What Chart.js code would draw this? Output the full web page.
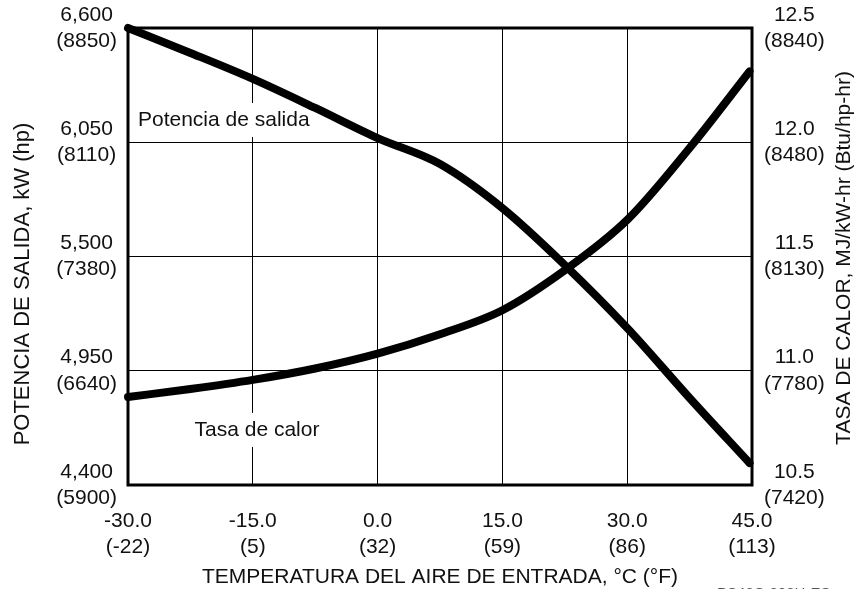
<!DOCTYPE html>
<html>
<head>
<meta charset="utf-8">
<script src="https://cdn.jsdelivr.net/npm/chart.js@4.4.1/dist/chart.umd.min.js"></script>
<style>
  html, body { margin: 0; padding: 0; background: #fff; }
</style>
</head>
<body>
<canvas id="chart" width="868" height="589"></canvas>
<script>
// inlet air temperature, deg C
const temps = [-30, -22.5, -15, -7.5, 0, 7.5, 15, 22.5, 30, 37.5, 44.7];
// output power, kW (left axis)
const power = [6600, 6480, 6355, 6215, 6070, 5945, 5733, 5459, 5156, 4819, 4506];
// heat rate, MJ/kW-hr (right axis)
const heatRate = [10.885, 10.92, 10.96, 11.01, 11.075, 11.16, 11.265, 11.44, 11.66, 11.975, 12.31];

const xTickLabels = [['-30.0', '(-22)'], ['-15.0', '(5)'], ['0.0', '(32)'], ['15.0', '(59)'], ['30.0', '(86)'], ['45.0', '(113)']];
const powerTickLabels = [['4,400', '(5900)'], ['4,950', '(6640)'], ['5,500', '(7380)'], ['6,050', '(8110)'], ['6,600', '(8850)']];
const heatTickLabels = [['10.5', '(7420)'], ['11.0', '(7780)'], ['11.5', '(8130)'], ['12.0', '(8480)'], ['12.5', '(8840)']];

const FONT = "'Liberation Sans', Arial, sans-serif";
const INK = '#111';

// frame round the plot area, and the curve names with a white box over the grid
const framePlugin = {
    id: 'frame',
    beforeDatasetsDraw(chart) {
        const a = chart.chartArea;
        const ctx = chart.ctx;
        const x = chart.scales.x;
        const items = [
            { text: 'Potencia de salida', px: x.getPixelForValue(-28.8), py: chart.scales.y.getPixelForValue(6157) },
            { text: 'Tasa de calor', px: x.getPixelForValue(-22), py: chart.scales.y1.getPixelForValue(10.741) }
        ];
        ctx.save();
        ctx.font = '21px ' + FONT;
        ctx.textAlign = 'left';
        ctx.textBaseline = 'middle';
        items.forEach(function (it) {
            const w = ctx.measureText(it.text).width;
            ctx.fillStyle = '#fff';
            ctx.fillRect(it.px - 4, it.py - 17, w + 8, 34);
            ctx.fillStyle = INK;
            ctx.fillText(it.text, it.px, it.py);
        });
        ctx.strokeStyle = '#000';
        ctx.lineWidth = 3;
        ctx.strokeRect(a.left, a.top, a.right - a.left, a.bottom - a.top);
        ctx.restore();
    }
};

// axis titles
const axisTitles = {
    id: 'axisTitles',
    afterDraw(chart) {
        const ctx = chart.ctx;
        const a = chart.chartArea;
        ctx.save();
        ctx.fillStyle = INK;
        ctx.font = '21px ' + FONT;
        ctx.textAlign = 'center';
        ctx.textBaseline = 'middle';
        ctx.fillText('TEMPERATURA DEL AIRE DE ENTRADA, °C (°F)', (a.left + a.right) / 2, 577);

        ctx.save();
        ctx.translate(844, 258);
        ctx.rotate(-Math.PI / 2);
        ctx.fillText('TASA DE CALOR, MJ/kW-hr (Btu/hp-hr)', 0, 0);
        ctx.restore();

        ctx.font = '22px ' + FONT;
        ctx.save();
        ctx.translate(23, 284);
        ctx.rotate(-Math.PI / 2);
        ctx.fillText('POTENCIA DE SALIDA, kW (hp)', 0, 0);
        ctx.restore();

        // figure code, cut off by the bottom edge
        ctx.fillStyle = '#555';
        ctx.font = '15px ' + FONT;
        ctx.textAlign = 'left';
        ctx.textBaseline = 'top';
        ctx.fillText('PS46C-003H-ES', 717, 586);
        ctx.restore();
    }
};

const lineStyle = {
    borderColor: '#000',
    borderWidth: 8,
    borderCapStyle: 'round',
    borderJoinStyle: 'round',
    pointRadius: 0,
    fill: false,
    clip: false,
    cubicInterpolationMode: 'monotone'
};

const data = {
    datasets: [
        Object.assign({
            label: 'Potencia de salida',
            data: temps.map(function (t, i) { return { x: t, y: power[i] }; }),
            yAxisID: 'y'
        }, lineStyle),
        Object.assign({
            label: 'Tasa de calor',
            data: temps.map(function (t, i) { return { x: t, y: heatRate[i] }; }),
            yAxisID: 'y1'
        }, lineStyle)
    ]
};

const tickFont = { family: FONT, size: 21, lineHeight: 1.25 };

function fitY(width) {
    return function (s) {
        s.width = width;
        s.paddingTop = 0;
        s.paddingBottom = 0;
    };
}

const options = {
    responsive: false,
    animation: false,
    devicePixelRatio: 1,
    layout: { padding: { top: 28, left: 0, right: 0, bottom: 0 } },
    plugins: {
        legend: { display: false },
        tooltip: { enabled: false }
    },
    scales: {
        x: {
            type: 'linear',
            min: -30,
            max: 45,
            afterFit: function (s) { s.height = 104; s.paddingLeft = 0; s.paddingRight = 0; },
            border: { display: false },
            grid: { color: '#000', lineWidth: 1, drawTicks: false },
            ticks: {
                stepSize: 15,
                padding: 23,
                color: INK,
                font: tickFont,
                maxRotation: 0,
                autoSkip: false,
                callback: function (v, i) { return xTickLabels[i]; }
            }
        },
        y: {
            position: 'left',
            min: 4400,
            max: 6600,
            afterFit: fitY(128),
            border: { display: false },
            grid: { color: '#000', lineWidth: 1, drawTicks: false },
            ticks: {
                stepSize: 550,
                padding: 11,
                crossAlign: 'center',
                color: INK,
                font: tickFont,
                autoSkip: false,
                callback: function (v, i) { return powerTickLabels[i]; }
            }
        },
        y1: {
            position: 'right',
            min: 10.5,
            max: 12.5,
            afterFit: fitY(116),
            border: { display: false },
            grid: { display: false, drawTicks: false },
            ticks: {
                stepSize: 0.5,
                padding: 12,
                crossAlign: 'center',
                color: INK,
                font: tickFont,
                autoSkip: false,
                callback: function (v, i) { return heatTickLabels[i]; }
            }
        }
    }
};

const chart = new Chart(document.getElementById('chart'), {
    type: 'line',
    data: data,
    options: options,
    plugins: [framePlugin, axisTitles]
});
</script>
</body>
</html>
